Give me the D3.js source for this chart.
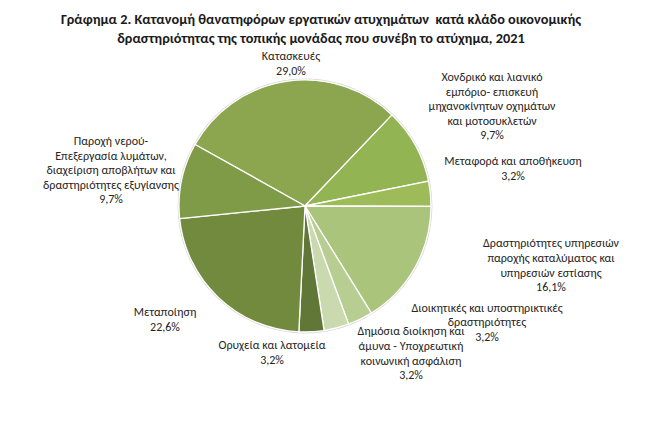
<!DOCTYPE html>
<html>
<head>
<meta charset="utf-8">
<script src="https://cdn.jsdelivr.net/npm/d3@7"></script>
<style>
  html, body { margin: 0; padding: 0; background: #fff; }
  svg { display: block; }
</style>
</head>
<body>
<svg id="chart" width="647" height="431"></svg>
<script>
// ---- data ----
const titleLines = [
  "Γράφημα 2. Κατανομή θανατηφόρων εργατικών ατυχημάτων  κατά κλάδο οικονομικής",
  "δραστηριότητας της τοπικής μονάδας που συνέβη το ατύχημα, 2021"
];
const categories = [
  "Κατασκευές",
  "Χονδρικό και λιανικό\nεμπόριο- επισκευή\nμηχανοκίνητων οχημάτων\nκαι μοτοσυκλετών",
  "Μεταφορά και αποθήκευση",
  "Δραστηριότητες υπηρεσιών\nπαροχής καταλύματος και\nυπηρεσιών εστίασης",
  "Διοικητικές και υποστηρικτικές\nδραστηριότητες",
  "Δημόσια διοίκηση και\nάμυνα - Υποχρεωτική\nκοινωνική ασφάλιση",
  "Ορυχεία και λατομεία",
  "Μεταποίηση",
  "Παροχή νερού-\nΕπεξεργασία λυμάτων,\nδιαχείριση αποβλήτων και\nδραστηριότητες εξυγίανσης"
];
const values = [29.0, 9.7, 3.2, 16.1, 3.2, 3.2, 3.2, 22.6, 9.7];

// ---- style / layout ----
const palette = ["#8ba64f", "#93b453", "#9dbb59", "#abc47c", "#b8cd92", "#cad9ae", "#617737", "#728a3e", "#809b48"];
const W = 647, H = 431;
const cx = 305, cy = 206, R = 126;
const startDeg = -60.8;
// label block centres relative to pie centre
const labelOffsets = [
  [-14, -143], [187, -100], [208, -38], [246, 59], [182, 116],
  [106, 147], [-33, 146], [-140, 113], [-194, -36]
];
const font = "Carlito, Lato, 'Noto Sans', sans-serif";
const lineH = 14.6;

const svg = d3.select("#chart");

// title
svg.append("g").selectAll("text").data(titleLines).join("text")
  .attr("x", 321).attr("y", (d, i) => 24 + i * 19)
  .attr("text-anchor", "middle")
  .attr("font-family", font)
  .attr("font-weight", "bold")
  .attr("font-size", 14.3)
  .attr("fill", "#1a1a1a")
  .style("white-space", "pre")
  .text(d => d);

const color = d3.scaleOrdinal().domain(categories).range(palette);
const fmt = v => d3.format(".1f")(v).replace(".", ",") + "%";

const pie = d3.pie().sort(null).value(d => d.value)
  .startAngle(startDeg * Math.PI / 180)
  .endAngle(startDeg * Math.PI / 180 + 2 * Math.PI);
const data = categories.map((c, i) => ({ name: c, value: values[i], idx: i }));
const arcs = pie(data);
const arc = d3.arc().innerRadius(0).outerRadius(R);

const g = svg.append("g").attr("transform", `translate(${cx},${cy})`);
g.append("circle").attr("r", R + 0.8).attr("fill", "none")
  .attr("stroke", "#d8d8d8").attr("stroke-width", 1.2);
g.selectAll("path").data(arcs).join("path")
  .attr("d", arc)
  .attr("fill", d => color(d.data.name))
  .attr("stroke", "#ffffff")
  .attr("stroke-width", 1.3)
  .attr("stroke-linejoin", "round");

// labels
const lg = g.append("g")
  .attr("font-family", font).attr("font-size", 12).attr("fill", "#262626")
  .attr("text-anchor", "middle");
arcs.forEach((a, i) => {
  const lines = a.data.name.split("\n").concat([fmt(a.data.value)]);
  const [ox, oy] = labelOffsets[i];
  const y0 = oy - (lines.length - 1) * lineH / 2;
  const t = lg.append("text").attr("x", ox).attr("y", y0).attr("dy", "0.35em");
  lines.forEach((ln, k) => {
    t.append("tspan").attr("x", ox).attr("y", y0 + k * lineH).attr("dy", "0.35em").text(ln);
  });
});
</script>
</body>
</html>
